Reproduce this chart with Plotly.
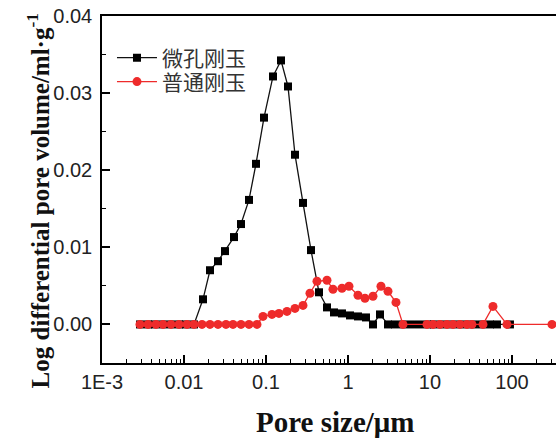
import plotly.graph_objects as go

# 微孔刚玉 (black squares)
micro_x = [0.002906, 0.003639, 0.004429, 0.005545, 0.006943, 0.008690, 0.01058, 0.01324,
           0.01705, 0.02075, 0.02598, 0.03162, 0.04071, 0.04956, 0.06204, 0.07551,
           0.09454, 0.1217, 0.1524, 0.1855, 0.2258, 0.2827, 0.3538, 0.4429,
           0.5546, 0.6752, 0.8450, 1.058, 1.324, 1.658, 2.018, 2.456,
           3.074, 3.742, 4.685, 5.866, 7.343, 9.193, 11.19, 14.01,
           17.54, 21.95, 27.48, 34.40, 43.06, 53.91, 65.63, 94.5]
micro_y = [0.0, 0.0, 0.0, 0.0, 0.0, 0.0, 0.0, 0.0,
           0.00326, 0.00703, 0.00820, 0.00951, 0.01133, 0.01302, 0.01615, 0.02083,
           0.02682, 0.03216, 0.03424, 0.03086, 0.02201, 0.01576, 0.00964, 0.00417,
           0.00221, 0.00156, 0.00143, 0.00117, 0.00104, 0.00091, 0.0, 0.0013,
           0.0, 0.0, 0.0, 0.0, 0.0, 0.0, 0.0, 0.0,
           0.0, 0.0, 0.0, 0.0, 0.0, 0.0, 0.0, 0.0]

# 普通刚玉 (red circles)
normal_x = [0.002906, 0.003639, 0.004555, 0.005545, 0.006943, 0.008690, 0.01088, 0.01324,
            0.01658, 0.02075, 0.02598, 0.03252, 0.03959, 0.04956, 0.06204, 0.07768,
            0.09193, 0.1183, 0.1440, 0.1803, 0.2258, 0.2827, 0.3440, 0.4188,
            0.5546, 0.6564, 0.8450, 1.028, 1.324, 1.612, 2.018, 2.526,
            3.074, 3.849, 4.685, 9.193, 10.88, 13.24, 16.12, 19.08,
            23.22, 28.27, 32.52, 44.29, 58.66, 86.9, 307.4]
normal_y = [0.0, 0.0, 0.0, 0.0, 0.0, 0.0, 0.0, 0.0,
            0.0, 0.0, 0.0, 0.0, 0.0, 0.0, 0.0, 0.0,
            0.00104, 0.0013, 0.00143, 0.00169, 0.00208, 0.00247, 0.00404, 0.0056,
            0.00573, 0.00456, 0.00469, 0.00495, 0.00378, 0.00339, 0.00365, 0.00495,
            0.0043, 0.00286, 0.0, 0.0, 0.0, 0.0, 0.0, 0.0,
            0.0, 0.0, 0.0, 0.0, 0.00234, 0.0, 0.0]

x_tickvals = [0.001, 0.01, 0.1, 1, 10, 100, 1000]
x_ticktext = ["1E-3", "0.01", "0.1", "1", "10", "100", "1000"]
x_minor = [k * 10 ** e for e in range(-3, 3) for k in range(2, 10)]
y_tickvals = [0.0, 0.01, 0.02, 0.03, 0.04]

RED = "#ee2b2b"

fig = go.Figure()
fig.add_trace(go.Scatter(
    x=micro_x, y=micro_y, name="微孔刚玉", mode="lines+markers",
    line=dict(color="#111111", width=1.3),
    marker=dict(symbol="square", size=8, color="black"),
    legend="legend",
))
fig.add_trace(go.Scatter(
    x=normal_x, y=normal_y, name="普通刚玉", mode="lines+markers",
    line=dict(color=RED, width=1.3),
    marker=dict(symbol="circle", size=9, color=RED),
    legend="legend2",
))

tickfont = dict(family="Liberation Sans, Arial", size=20, color="#222222")
legfont = dict(family="Noto Sans CJK SC", size=21, color="#333333")

fig.update_layout(
    width=556, height=440,
    margin=dict(l=102, r=0, t=16, b=77),
    paper_bgcolor="white", plot_bgcolor="white",
    showlegend=True,
    legend=dict(
        x=0.022, y=0.938, xanchor="left", yanchor="top",
        bgcolor="rgba(0,0,0,0)", font=legfont, itemwidth=40,
    ),
    legend2=dict(
        x=0.022, y=0.869, xanchor="left", yanchor="top",
        bgcolor="rgba(0,0,0,0)", font=legfont, itemwidth=40,
    ),
    xaxis=dict(
        type="log", range=[-3, 2.537],
        tickvals=x_tickvals, ticktext=x_ticktext,
        ticks="inside", ticklen=8, tickwidth=1.5, tickcolor="black",
        minor=dict(tickvals=x_minor, ticks="inside", ticklen=4, tickwidth=1.2, tickcolor="black"),
        showline=True, linecolor="black", linewidth=1.5, mirror=True,
        showgrid=False, zeroline=False,
        tickfont=tickfont,
    ),
    yaxis=dict(
        range=[-0.005, 0.04],
        tickvals=y_tickvals, tickformat=".2f",
        ticks="inside", ticklen=8, tickwidth=1.5, tickcolor="black",
        minor=dict(dtick=0.005, tick0=0, ticks="inside", ticklen=4, tickwidth=1.2, tickcolor="black"),
        showline=True, linecolor="black", linewidth=1.5,
        showgrid=False, zeroline=False,
        tickfont=tickfont, ticklabelstandoff=4,
    ),
    annotations=[
        dict(text="<b>Pore size/μm</b>", xref="paper", yref="paper",
             x=0.513, y=-0.17, xanchor="center", yanchor="middle", showarrow=False,
             font=dict(family="Liberation Serif, Times New Roman", size=29, color="#111111")),
        dict(text="<b>Log differential pore volume/ml·g<sup>-1</sup></b>", xref="paper", yref="paper",
             x=-0.14, y=0.467, xanchor="center", yanchor="middle", showarrow=False, textangle=-90,
             font=dict(family="Liberation Serif, Times New Roman", size=25, color="#111111")),
    ],
)

fig.write_html(
    "out.html",
    config={"displayModeBar": False},
    post_script="document.body.style.margin='0';document.body.style.overflow='hidden';",
)
